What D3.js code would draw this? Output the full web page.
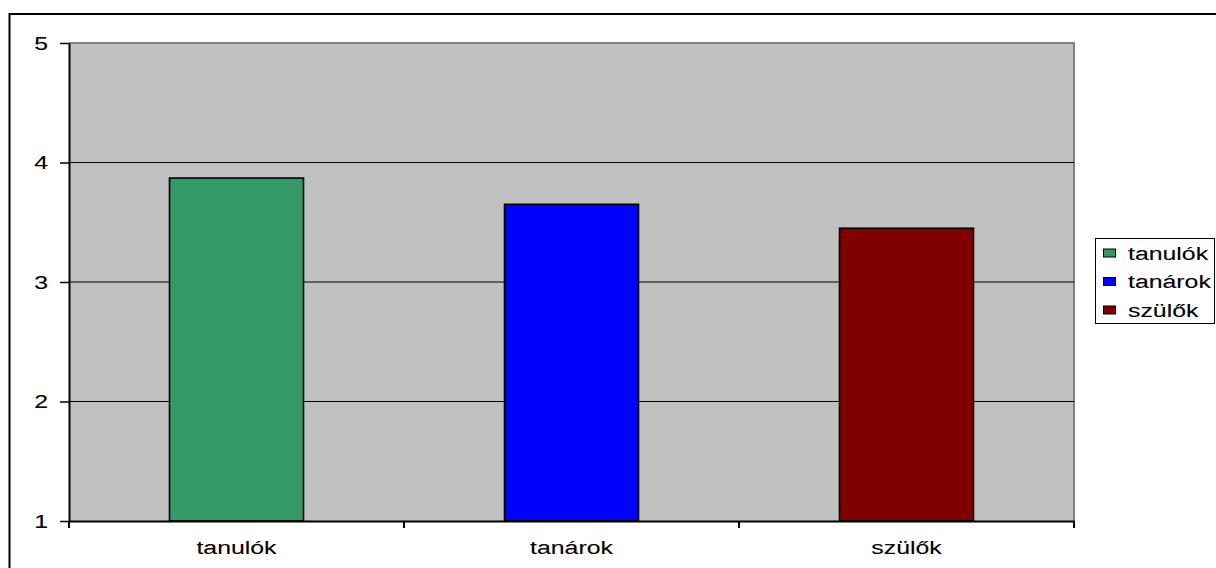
<!DOCTYPE html>
<html>
<head>
<meta charset="utf-8">
<script src="https://cdn.jsdelivr.net/npm/d3@7"></script>
<style>
  html, body { margin: 0; padding: 0; background: #fff; }
  svg { display: block; }
  text { font-family: "Liberation Sans", Arial, sans-serif; font-size: 18px; fill: #000; stroke: #000; stroke-width: 0.1px; }
</style>
</head>
<body>
<svg id="chart" width="1216" height="568"></svg>
<script>
// Survey averages by respondent group
const categories = ["tanulók", "tanárok", "szülők"];
const values = [3.87, 3.65, 3.45];
const colors = ["#339966", "#0000ff", "#800000"];
const yTicks = [1, 2, 3, 4, 5];

const W = 1216, H = 568;
const plot = { left: 69, right: 1074, top: 43, bottom: 521 };
const SX = 1.38; // horizontal stretch applied to all text
const FONT = "'Liberation Sans', Arial, sans-serif";

const svg = d3.select("#chart");

// outer chart frame (runs past the right and bottom edge)
svg.append("rect")
  .attr("x", 9.5).attr("y", 14)
  .attr("width", W).attr("height", H)
  .attr("fill", "#fff").attr("stroke", "#000").attr("stroke-width", 2);

const y = d3.scaleLinear().domain([1, 5]).range([plot.bottom, plot.top]);
const xCat = d3.scaleBand().domain(categories).range([plot.left, plot.right]).padding(0);
const xBar = d3.scaleBand().domain(categories).range([plot.left, plot.right])
  .paddingInner(0.6).paddingOuter(0.3);

// plot background
svg.append("rect")
  .attr("x", plot.left).attr("y", plot.top)
  .attr("width", plot.right - plot.left).attr("height", plot.bottom - plot.top)
  .attr("fill", "#c0c0c0");

// top and right borders of the plot area
svg.append("path")
  .attr("d", `M${plot.left},${y(5)}H${plot.right}V${plot.bottom}`)
  .attr("fill", "none").attr("stroke", "#808080").attr("stroke-width", 2);

// horizontal gridlines
svg.append("g").selectAll("line")
  .data(yTicks.filter(t => t > 1 && t < 5))
  .join("line")
  .attr("x1", plot.left).attr("x2", plot.right)
  .attr("y1", d => y(d)).attr("y2", d => y(d))
  .attr("stroke", "#000").attr("stroke-width", 1.2);

// bars
svg.append("g").selectAll("rect")
  .data(categories.map((c, i) => ({ c, v: values[i], color: colors[i] })))
  .join("rect")
  .attr("x", d => xBar(d.c))
  .attr("y", d => y(d.v))
  .attr("width", xBar.bandwidth())
  .attr("height", d => y(1) - y(d.v))
  .attr("fill", d => d.color)
  .attr("stroke", "#000").attr("stroke-width", 1.6);

// y axis
const yAxis = svg.append("g")
  .attr("transform", `translate(${plot.left},0)`)
  .call(d3.axisLeft(y).tickValues(yTicks).tickFormat(d3.format("d")).tickSizeInner(9).tickSizeOuter(0));
yAxis.select(".domain").attr("stroke", "#000").attr("stroke-width", 2);
yAxis.selectAll(".tick line").attr("stroke", "#000").attr("stroke-width", 1.5);
yAxis.selectAll(".tick text")
  .attr("x", null).attr("dy", "0.36em")
  .attr("text-anchor", "end")
  .attr("transform", `translate(-21,0) scale(${SX},1)`)
  .style("font-family", FONT).style("font-size", "18px");

// x axis: labels at category centres, ticks at category boundaries
const xAxis = svg.append("g")
  .attr("transform", `translate(0,${plot.bottom})`)
  .call(d3.axisBottom(xCat).tickSize(0).tickPadding(0));
xAxis.select(".domain").attr("stroke", "#000").attr("stroke-width", 2);
xAxis.selectAll(".tick text")
  .attr("y", null).attr("dy", null)
  .attr("transform", `translate(0,32.5) scale(${SX},1)`)
  .style("font-family", FONT).style("font-size", "18px");

const bounds = categories.map(c => xCat(c)).concat([xCat(categories[categories.length - 1]) + xCat.bandwidth()]);
xAxis.append("g").selectAll("line")
  .data(bounds)
  .join("line")
  .attr("x1", d => d).attr("x2", d => d)
  .attr("y1", 0).attr("y2", 7)
  .attr("stroke", "#000").attr("stroke-width", 2);

// legend
const legend = svg.append("g");
legend.append("rect")
  .attr("x", 1095.5).attr("y", 238.5)
  .attr("width", 119).attr("height", 85)
  .attr("fill", "#fff").attr("stroke", "#000").attr("stroke-width", 1);

const rows = legend.selectAll("g.row")
  .data(categories.map((c, i) => ({ c, color: colors[i] })))
  .join("g").attr("class", "row")
  .attr("transform", (d, i) => `translate(1103,${253 + i * 28.5})`);
rows.append("rect")
  .attr("x", 0.5).attr("y", -4)
  .attr("width", 12).attr("height", 8)
  .attr("fill", d => d.color)
  .attr("stroke", "#000").attr("stroke-width", 1);
rows.append("text")
  .attr("transform", `translate(25,6.5) scale(${SX},1)`)
  .text(d => d.c);
</script>
</body>
</html>
